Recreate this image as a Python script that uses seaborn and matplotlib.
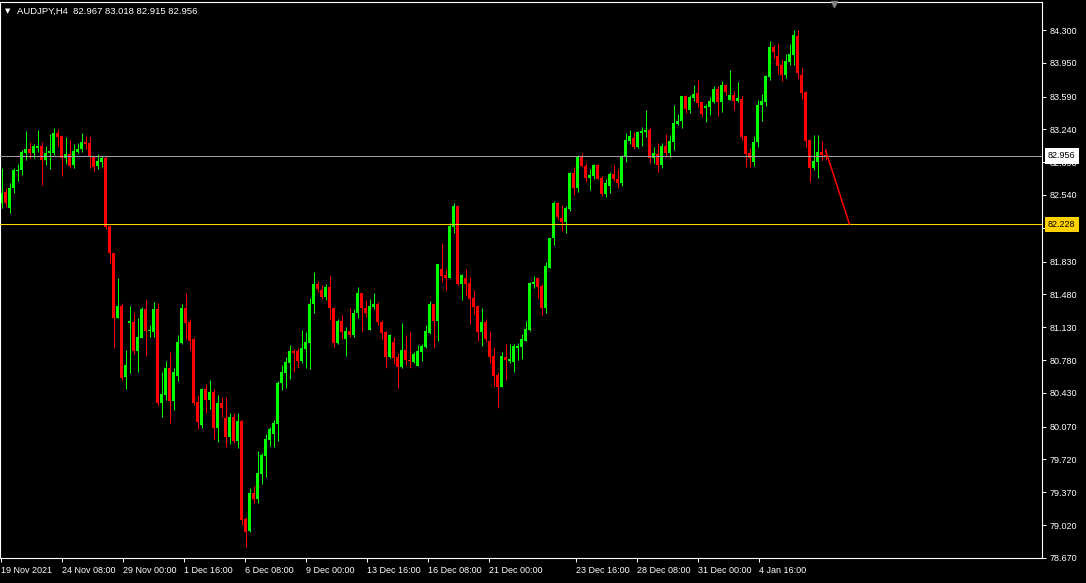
import numpy as np
import pandas as pd
import matplotlib
matplotlib.use('Agg')
import matplotlib.pyplot as plt
import seaborn as sns

# --- DATA (AUDJPY H4) ---
symbol = 'AUDJPY,H4'
last_ohlc = '82.967 83.018 82.915 82.956'

opens = [
    82.46, 82.57, 82.40, 82.62, 82.80, 82.81, 82.99, 83.03, 82.99, 83.04,
    83.06, 82.91, 82.99, 82.99, 83.20, 83.17, 82.93, 82.98, 82.86, 83.00,
    83.03, 83.11, 83.10, 82.95, 82.85, 82.89, 82.93, 82.21, 81.92, 81.23,
    81.36, 80.60, 81.18, 81.19, 80.88, 81.02, 81.32, 81.09, 81.08, 81.32,
    80.32, 80.41, 80.69, 80.34, 80.61, 80.96, 81.33, 81.18, 81.00, 80.33,
    80.09, 80.47, 80.35, 80.44, 80.05, 80.32, 80.16, 79.96, 80.17, 79.92,
    80.13, 79.08, 78.96, 79.36, 79.30, 79.56, 79.76, 79.93, 79.99, 80.10,
    80.54, 80.64, 80.75, 80.88, 80.88, 80.77, 80.90, 80.96, 81.38, 81.59,
    81.53, 81.45, 81.56, 81.34, 80.96, 81.20, 81.00, 81.09, 81.05, 81.28,
    81.49, 81.34, 81.10, 81.35, 81.38, 81.19, 81.08, 80.81, 80.97, 80.81,
    80.71, 80.89, 80.78, 80.76, 80.72, 80.87, 80.92, 81.07, 81.38, 81.20,
    81.75, 81.69, 81.66, 82.20, 82.42, 81.59, 81.65, 81.60, 81.44, 81.36,
    81.08, 81.19, 80.98, 80.82, 80.62, 80.49, 80.81, 80.77, 80.76, 80.91,
    80.92, 80.98, 81.10, 81.59, 81.65, 81.57, 81.34, 81.76, 82.08, 82.45,
    82.30, 82.25, 82.39, 82.78, 82.62, 82.96, 82.85, 82.72, 82.74, 82.86,
    82.72, 82.55, 82.64, 82.76, 82.71, 82.67, 82.96, 83.12, 83.15, 83.05,
    83.20, 83.21, 83.23, 82.94, 82.98, 82.86, 83.06, 82.99, 83.11, 83.30,
    83.33, 83.60, 83.45, 83.58, 83.63, 83.53, 83.47, 83.48, 83.53, 83.67,
    83.53, 83.71, 83.55, 83.61, 83.54, 83.56, 83.17, 82.99, 82.89, 83.11,
    83.50, 83.53, 83.80, 84.12, 84.02, 83.93, 83.82, 83.96, 84.03, 84.24,
    83.82, 83.64, 83.13, 82.83, 82.89, 83.00, 82.967,
]
highs = [
    82.83, 82.62, 82.67, 82.83, 82.87, 83.02, 83.22, 83.11, 83.08, 83.23,
    83.11, 83.06, 83.19, 83.26, 83.24, 83.17, 83.16, 83.13, 83.08, 83.10,
    83.20, 83.17, 83.17, 82.95, 82.98, 82.96, 82.96, 82.22, 81.92, 81.65,
    81.39, 80.89, 81.36, 81.28, 81.23, 81.35, 81.42, 81.15, 81.40, 81.39,
    80.65, 80.77, 80.87, 80.69, 81.05, 81.38, 81.49, 81.22, 81.02, 80.41,
    80.48, 80.52, 80.57, 80.47, 80.41, 80.39, 80.39, 80.21, 80.21, 80.22,
    80.14, 79.11, 79.42, 79.44, 79.81, 79.79, 79.99, 80.07, 80.14, 80.56,
    80.73, 80.81, 80.94, 80.90, 80.91, 81.10, 81.08, 81.44, 81.72, 81.62,
    81.58, 81.59, 81.68, 81.34, 81.22, 81.26, 81.13, 81.34, 81.32, 81.56,
    81.50, 81.42, 81.43, 81.50, 81.40, 81.21, 81.09, 81.06, 81.03, 80.85,
    81.17, 81.05, 81.08, 80.87, 80.94, 80.95, 81.15, 81.41, 81.39, 81.80,
    82.03, 81.75, 82.24, 82.45, 82.43, 81.70, 81.75, 81.67, 81.53, 81.37,
    81.33, 81.22, 81.09, 80.92, 80.65, 80.87, 80.95, 80.95, 80.95, 80.96,
    81.06, 81.20, 81.61, 81.68, 81.67, 81.59, 81.83, 82.08, 82.48, 82.47,
    82.43, 82.42, 82.79, 82.84, 82.97, 82.99, 82.88, 82.82, 82.87, 82.87,
    82.74, 82.71, 82.79, 82.86, 82.82, 82.97, 83.20, 83.23, 83.21, 83.22,
    83.27, 83.45, 83.27, 83.05, 83.10, 83.10, 83.19, 83.18, 83.50, 83.40,
    83.60, 83.61, 83.61, 83.71, 83.77, 83.53, 83.51, 83.59, 83.70, 83.70,
    83.76, 83.72, 83.87, 83.65, 83.75, 83.60, 83.17, 83.04, 83.17, 83.55,
    83.62, 83.82, 84.18, 84.14, 84.16, 83.99, 84.04, 84.15, 84.30, 84.30,
    83.89, 83.65, 83.13, 83.18, 83.18, 83.12, 83.018,
]
lows = [
    82.40, 82.41, 82.35, 82.56, 82.69, 82.75, 82.91, 82.94, 82.94, 83.00,
    82.65, 82.86, 82.82, 82.97, 83.06, 82.74, 82.87, 82.83, 82.83, 82.99,
    83.00, 83.03, 82.83, 82.80, 82.82, 82.84, 82.18, 81.82, 80.91, 81.23,
    80.57, 80.47, 80.64, 80.84, 80.65, 81.01, 80.82, 81.03, 81.03, 80.30,
    80.17, 80.35, 80.11, 80.25, 80.56, 80.95, 81.00, 80.89, 80.30, 80.04,
    80.05, 80.21, 80.26, 79.94, 79.91, 80.17, 79.85, 79.88, 79.90, 79.84,
    79.02, 78.79, 78.95, 79.25, 79.26, 79.46, 79.53, 79.86, 79.85, 79.92,
    80.46, 80.48, 80.58, 80.65, 80.69, 80.75, 80.70, 80.68, 81.28, 81.51,
    81.43, 81.42, 81.21, 80.92, 80.95, 81.00, 80.82, 81.03, 81.03, 81.23,
    81.09, 81.24, 81.10, 81.32, 81.15, 81.00, 80.70, 80.80, 80.74, 80.48,
    80.69, 80.73, 80.70, 80.75, 80.72, 80.77, 80.91, 81.06, 80.92, 80.98,
    81.61, 81.53, 81.66, 82.14, 81.58, 81.42, 81.47, 81.16, 81.27, 80.98,
    80.93, 80.97, 80.75, 80.50, 80.27, 80.49, 80.57, 80.75, 80.65, 80.78,
    80.79, 80.98, 81.09, 81.55, 81.44, 81.26, 81.28, 81.76, 82.01, 82.27,
    82.16, 82.14, 82.37, 82.54, 82.57, 82.84, 82.68, 82.59, 82.71, 82.71,
    82.53, 82.52, 82.56, 82.69, 82.62, 82.64, 82.89, 83.08, 83.03, 83.04,
    83.06, 83.16, 82.88, 82.88, 82.79, 82.83, 82.95, 82.95, 83.02, 83.29,
    83.26, 83.42, 83.42, 83.54, 83.48, 83.38, 83.32, 83.39, 83.52, 83.38,
    83.43, 83.61, 83.55, 83.45, 83.53, 83.13, 82.84, 82.84, 82.85, 83.05,
    83.33, 83.49, 83.77, 84.00, 83.83, 83.76, 83.79, 83.93, 83.93, 83.78,
    83.56, 83.05, 82.68, 82.81, 82.72, 82.91, 82.915,
]
closes = [
    82.56, 82.46, 82.62, 82.81, 82.81, 83.00, 83.03, 82.99, 83.06, 83.06,
    82.91, 82.99, 83.01, 83.20, 83.16, 82.93, 82.98, 82.85, 83.01, 83.03,
    83.11, 83.08, 82.95, 82.84, 82.90, 82.94, 82.20, 81.92, 81.23, 81.36,
    80.59, 80.73, 81.19, 80.88, 81.03, 81.32, 81.09, 81.10, 81.32, 80.32,
    80.42, 80.69, 80.34, 80.65, 80.97, 81.33, 81.18, 80.98, 80.32, 80.12,
    80.47, 80.35, 80.44, 80.05, 80.32, 80.27, 79.96, 80.17, 79.92, 80.13,
    79.07, 78.95, 79.36, 79.30, 79.57, 79.77, 79.94, 80.04, 80.11, 80.54,
    80.65, 80.76, 80.88, 80.85, 80.77, 80.91, 80.97, 81.38, 81.59, 81.54,
    81.45, 81.56, 81.33, 80.96, 81.20, 81.08, 81.09, 81.05, 81.28, 81.49,
    81.33, 81.28, 81.36, 81.38, 81.19, 81.07, 80.81, 81.05, 80.80, 80.71,
    80.89, 80.78, 80.77, 80.84, 80.88, 80.93, 81.09, 81.38, 81.20, 81.80,
    81.68, 81.66, 82.21, 82.42, 81.59, 81.69, 81.59, 81.43, 81.35, 81.08,
    81.19, 81.00, 80.81, 80.61, 80.49, 80.82, 80.78, 80.79, 80.93, 80.93,
    81.00, 81.11, 81.60, 81.61, 81.56, 81.34, 81.78, 82.08, 82.45, 82.31,
    82.25, 82.40, 82.78, 82.62, 82.96, 82.85, 82.72, 82.75, 82.86, 82.71,
    82.55, 82.67, 82.76, 82.71, 82.67, 82.96, 83.13, 83.17, 83.05, 83.21,
    83.22, 83.23, 82.93, 82.99, 82.86, 83.06, 82.99, 83.12, 83.31, 83.33,
    83.60, 83.46, 83.59, 83.62, 83.52, 83.40, 83.49, 83.54, 83.67, 83.53,
    83.71, 83.64, 83.61, 83.54, 83.58, 83.16, 82.98, 82.94, 83.11, 83.50,
    83.54, 83.81, 84.12, 84.07, 83.92, 83.82, 83.97, 84.04, 84.25, 83.84,
    83.63, 83.12, 82.83, 82.90, 83.00, 82.97, 82.956,
]

time_labels = ['19 Nov 2021', '24 Nov 08:00', '29 Nov 00:00', '1 Dec 16:00',
               '6 Dec 08:00', '9 Dec 00:00', '13 Dec 16:00', '16 Dec 08:00',
               '21 Dec 00:00', '23 Dec 16:00', '28 Dec 08:00', '31 Dec 00:00',
               '4 Jan 16:00']
time_ticks = [-0.125, 15.125, 30.375, 45.625, 60.875, 76.125, 91.375,
              106.625, 121.875, 143.625, 158.875, 174.125, 189.375]

price_ticks = [84.300, 83.950, 83.590, 83.240, 82.890, 82.540, 82.190,
               81.830, 81.480, 81.130, 80.780, 80.430, 80.070, 79.720,
               79.370, 79.020, 78.670]

bid_price = 82.956
level_price = 82.228
trend_bars = [206, 212]
trend_prices = [83.02, 82.228]

# --- FRAME ---
df = pd.DataFrame({'bar': np.arange(len(opens)), 'open': opens,
                   'high': highs, 'low': lows, 'close': closes})
df['up'] = df['close'] >= df['open']
df['color'] = np.where(df['up'], '#00ff00', '#ff0000')
df['body_lo'] = df[['open', 'close']].min(axis=1)
df['body_h'] = (df['close'] - df['open']).abs().clip(lower=0.011)

sns.set_theme(style='dark', rc={'axes.facecolor': 'black',
                                'figure.facecolor': 'black',
                                'axes.edgecolor': 'white',
                                'axes.grid': False})
plt.rcParams['font.family'] = ['Liberation Sans', 'DejaVu Sans']

W, H = 1086, 583
fig = plt.figure(figsize=(W / 100, H / 100), dpi=100)
ax = fig.add_axes([0, 25 / H, 1042 / W, 556.5 / H])

# wicks + bodies
ax.vlines(df['bar'], df['low'], df['high'], colors=df['color'],
          linewidth=0.72, zorder=2)
ax.bar(df['bar'], df['body_h'], bottom=df['body_lo'], width=0.75,
       color=df['color'], linewidth=0, zorder=2)

# horizontal levels
ax.axhline(bid_price, color='#a0a0a8', linewidth=0.75, zorder=3)
ax.axhline(level_price, color='#ffd700', linewidth=0.75, zorder=3)

# trend line
sns.lineplot(x=trend_bars, y=trend_prices, color='#ff0000', linewidth=1.1,
             ax=ax, zorder=4)

ax.set_xlim(-0.375, 260.125)
ax.set_ylim(78.668, 84.604)

for s in ax.spines.values():
    s.set_color('white')
    s.set_linewidth(0.8)

ax.yaxis.tick_right()
ax.set_yticks(price_ticks)
ax.set_yticklabels([f'{p:.3f}' for p in price_ticks])
ax.tick_params(axis='y', colors='white', length=3, width=0.7, pad=2.5,
               labelsize=6.5, right=True, left=False)

ax.set_xticks(time_ticks)
ax.set_xticklabels(time_labels)
for lbl in ax.get_xticklabels():
    lbl.set_ha('left')
ax.tick_params(axis='x', colors='white', length=3, width=0.7, pad=2.5,
               labelsize=6.5, bottom=True)
ax.set_xlabel('')
ax.set_ylabel('')

# price boxes on the scale
ax.annotate(f'{bid_price:.3f}', xy=(1, bid_price),
            xycoords=('axes fraction', 'data'), xytext=(4.3, 0),
            textcoords='offset points', va='center', ha='left',
            fontsize=6.5, color='black', annotation_clip=False, zorder=6,
            bbox=dict(boxstyle='square,pad=0.35', fc='white', ec='none'))
ax.annotate(f'{level_price:.3f}', xy=(1, level_price),
            xycoords=('axes fraction', 'data'), xytext=(4.3, 0),
            textcoords='offset points', va='center', ha='left',
            fontsize=6.5, color='black', annotation_clip=False, zorder=6,
            bbox=dict(boxstyle='square,pad=0.35', fc='#ffd200', ec='none'))

# chart shift marker at the top
ax.plot([208], [84.58], marker='v', color='#808080', markersize=5,
        clip_on=False, zorder=5)

# header
fig.text(5 / W, 1 - 11 / H, '▼', color='white', fontsize=5,
         va='center', ha='left', family=['DejaVu Sans'])
fig.text(17 / W, 1 - 11 / H, f'{symbol}  {last_ohlc}', color='white',
         fontsize=6.8, va='center', ha='left')

fig.savefig('out.png', dpi=100, facecolor='black')
